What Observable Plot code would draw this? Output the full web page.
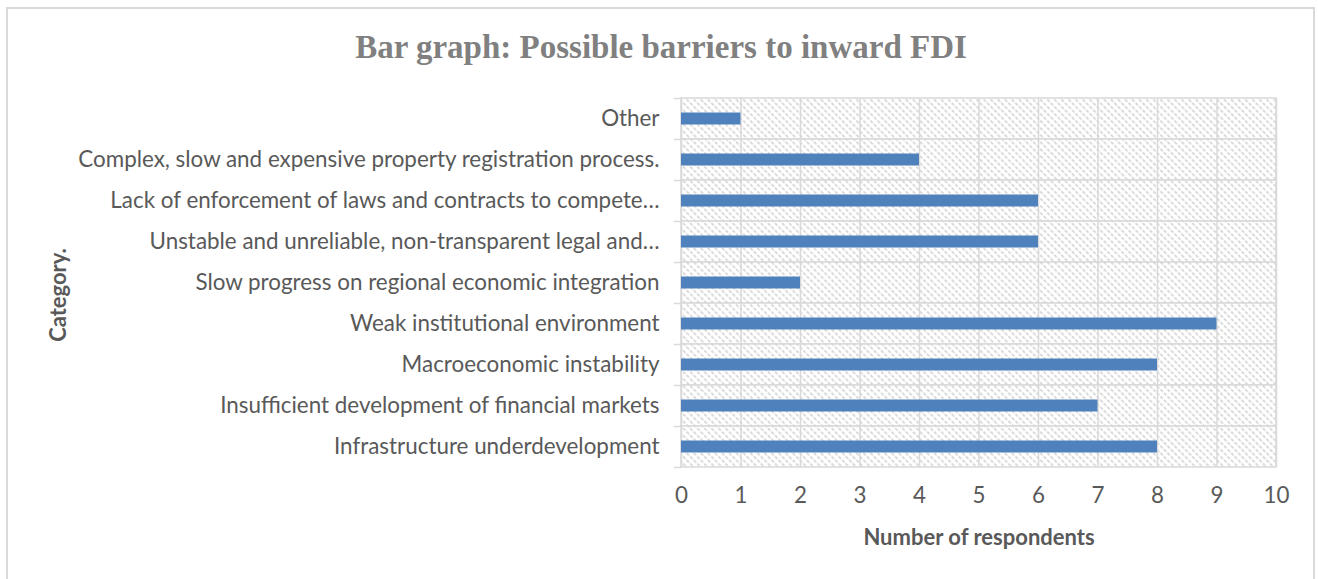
<!DOCTYPE html>
<html>
<head>
<meta charset="utf-8">
<script src="https://cdn.jsdelivr.net/npm/d3@7"></script>
<script src="https://cdn.jsdelivr.net/npm/@observablehq/plot@0.6"></script>
<style>
  html, body { margin: 0; padding: 0; background: #fff; width: 1318px; height: 579px; overflow: hidden; position: relative; }
  #frame { position: absolute; left: 6px; top: 7px; width: 1309px; height: 640px; border: 2px solid #d9d9d9; box-sizing: border-box; }
  #title { position: absolute; left: 0; top: 27px; width: 1322px; text-align: center; font-family: "Liberation Serif", "DejaVu Serif", serif; font-weight: bold; font-size: 33px; color: #808080; line-height: 40px; }
  #chart { position: absolute; left: 0; top: 93px; }
  #ylab { position: absolute; left: 57px; top: 295px; transform: translate(-50%, -50%) rotate(-90deg); font-family: Lato, "Open Sans", sans-serif; font-weight: bold; font-size: 22px; color: #595959; white-space: nowrap; }
</style>
</head>
<body>
<div id="frame"></div>
<div id="title">Bar graph: Possible barriers to inward FDI</div>
<div id="chart"></div>
<div id="ylab">Category.</div>
<script>
const categories = [
  "Other",
  "Complex, slow and expensive property registration process.",
  "Lack of enforcement of laws and contracts to compete…",
  "Unstable and unreliable, non-transparent legal and…",
  "Slow progress on regional economic integration",
  "Weak institutional environment",
  "Macroeconomic instability",
  "Insufficient development of financial markets",
  "Infrastructure underdevelopment"
];
const respondents = [1, 4, 6, 6, 2, 9, 8, 7, 8];
const xTicks = [0, 1, 2, 3, 4, 5, 6, 7, 8, 9, 10];
const xTitle = "Number of respondents";

const data = categories.map((c, i) => ({category: c, value: respondents[i]}));

const font = "Lato, 'Open Sans', sans-serif";
const chart = Plot.plot({
  width: 1318,
  height: 486,
  marginTop: 5,
  marginBottom: 112,
  marginLeft: 681,
  marginRight: 42,
  style: {fontFamily: font, fontSize: "22.4px", color: "#595959", background: "transparent"},
  x: {domain: [0, 10], ticks: xTicks, label: null},
  y: {domain: categories, padding: 0, label: null},
  marks: [
    // hatched band cells with horizontal grid borders
    Plot.barX(categories, {x1: 0, x2: 10, y: d => d, fill: "url(#hatch)", stroke: "#d9d9d9", strokeWidth: 1.5}),
    Plot.ruleX(xTicks, {stroke: "#d9d9d9", strokeWidth: 1.5}),
    // outward tick marks on category axis at band boundaries
    Plot.ruleY(categories, {y: d => d, x1: -0.12, x2: 0, stroke: "#d9d9d9", strokeWidth: 1.5, dy: -20.5}),
    Plot.ruleY(categories.slice(-1), {y: d => d, x1: -0.12, x2: 0, stroke: "#d9d9d9", strokeWidth: 1.5, dy: 20.5}),
    Plot.barX(data, {x: "value", y: "category", fill: "#4f81bd", insetTop: 14.5, insetBottom: 14.5}),
    Plot.axisX(xTicks, {tickSize: 0, tickPadding: 20, fontSize: 22.4, fill: "#595959", label: null}),
    Plot.axisY({tickSize: 0, tickPadding: 22, fontSize: 22.4, fill: "#595959", label: null}),
    Plot.text([xTitle], {frameAnchor: "bottom", dy: 77, text: d => d, fontWeight: "bold", fontSize: 22, fill: "#595959"})
  ]
});

// hatch pattern definition
const svg = d3.select(chart);
const defs = svg.insert("defs", ":first-child");
const pat = defs.append("pattern")
  .attr("id", "hatch")
  .attr("patternUnits", "userSpaceOnUse")
  .attr("width", 5)
  .attr("height", 5)
  .attr("patternTransform", "rotate(-45)");
pat.append("rect").attr("width", 5).attr("height", 5).attr("fill", "#ffffff");
pat.append("line").attr("x1", 1).attr("y1", 0).attr("x2", 1).attr("y2", 5)
  .attr("stroke", "#c8c8c8").attr("stroke-width", 1.3).attr("stroke-dasharray", "3.5 1.5");

document.getElementById("chart").appendChild(chart);
</script>
</body>
</html>
